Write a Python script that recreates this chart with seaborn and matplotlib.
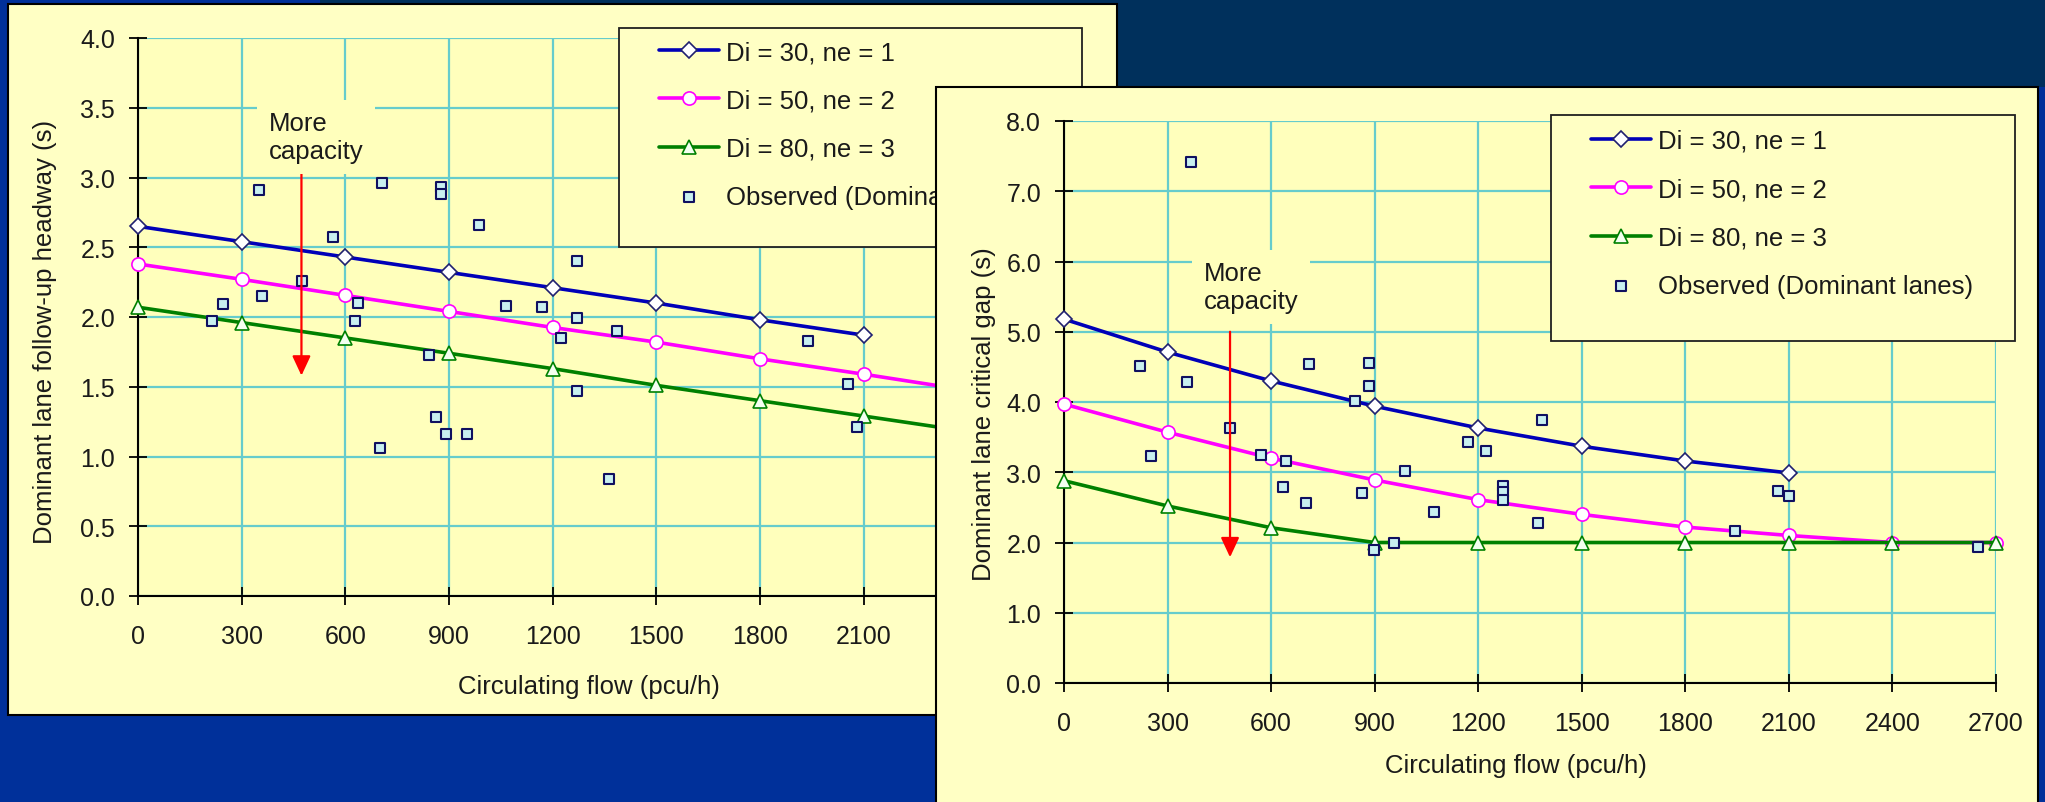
import matplotlib
matplotlib.use("Agg")
import matplotlib.pyplot as plt
import seaborn as sns
from matplotlib.patches import Rectangle
from matplotlib.transforms import Bbox, TransformedBbox

# ---------------- data ----------------
flow_ticks = [0, 300, 600, 900, 1200, 1500, 1800, 2100, 2400, 2700]
fu_yticks = [0.0, 0.5, 1.0, 1.5, 2.0, 2.5, 3.0, 3.5, 4.0]
cg_yticks = [0.0, 1.0, 2.0, 3.0, 4.0, 5.0, 6.0, 7.0, 8.0]

series_labels = ["Di = 30, ne = 1", "Di = 50, ne = 2", "Di = 80, ne = 3"]
obs_label = "Observed (Dominant lanes)"

# left chart : follow-up headway (s)
fu_x_short = [0, 300, 600, 900, 1200, 1500, 1800, 2100]
fu_x_long = [0, 300, 600, 900, 1200, 1500, 1800, 2100, 2400, 2700]
fu_di30 = [2.65, 2.54, 2.43, 2.32, 2.21, 2.10, 1.98, 1.87]
fu_di50 = [2.38, 2.27, 2.155, 2.04, 1.925, 1.82, 1.70, 1.59, 1.475, 1.36]
fu_di80 = [2.07, 1.96, 1.85, 1.74, 1.63, 1.51, 1.40, 1.29, 1.18, 1.07]
fu_obs_x = [214, 245, 350, 360, 474, 563, 627, 637, 700, 705, 841, 861, 877, 877,
            890, 952, 987, 1065, 1170, 1223, 1269, 1269, 1269, 1364, 1385, 1938,
            2055, 2081]
fu_obs_y = [1.97, 2.09, 2.91, 2.15, 2.26, 2.57, 1.97, 2.10, 1.06, 2.96, 1.73, 1.28,
            2.93, 2.88, 1.16, 1.16, 2.66, 2.08, 2.07, 1.85, 2.40, 1.99, 1.47, 0.84,
            1.90, 1.83, 1.52, 1.21]

# right chart : critical gap (s)
cg_x_short = [0, 300, 600, 900, 1200, 1500, 1800, 2100]
cg_x_long = [0, 300, 600, 900, 1200, 1500, 1800, 2100, 2400, 2700]
cg_di30 = [5.18, 4.71, 4.30, 3.94, 3.63, 3.37, 3.16, 2.99]
cg_di50 = [3.97, 3.57, 3.20, 2.89, 2.61, 2.40, 2.22, 2.10, 2.00, 2.00]
cg_di80 = [2.88, 2.52, 2.21, 2.00, 2.00, 2.00, 2.00, 2.00, 2.00, 2.00]
cg_obs_x = [219, 252, 357, 367, 482, 572, 633, 643, 701, 711, 842, 863, 885, 885,
            899, 956, 988, 1072, 1171, 1223, 1271, 1271, 1271, 1374, 1386, 1943,
            2069, 2100, 2649]
cg_obs_y = [4.51, 3.23, 4.28, 7.42, 3.63, 3.25, 2.79, 3.16, 2.56, 4.54, 4.02, 2.71,
            4.56, 4.23, 1.90, 1.99, 3.02, 2.43, 3.43, 3.30, 2.80, 2.72, 2.61, 2.28,
            3.74, 2.17, 2.73, 2.66, 1.93]

# ---------------- style ----------------
W, H, DPI = 2045, 803, 100
BG_BLUE = "#00309A"
BG_NAVY = "#00305C"
PANEL = "#FFFFC4"
PLOT = "#FFFFBC"
GRID = "#66CCCC"
C30, C50, C80 = "#0000B8", "#FF00FF", "#008000"
OBS_FACE, OBS_EDGE = "#C8F0F0", "#101060"
TXT = "#1A1A1A"
FS_TICK, FS_LAB = 18, 18.5

sns.set_style("ticks")
plt.rcParams["font.family"] = ["Liberation Sans", "DejaVu Sans"]

fig = plt.figure(figsize=(W / DPI, H / DPI), dpi=DPI, facecolor=BG_BLUE)


def fx(px):
    return px / W


def fy(py):
    return 1 - py / H


def rect_px(x0, y0, x1, y1, z, **kw):
    r = Rectangle((fx(x0), fy(y1)), fx(x1) - fx(x0), fy(y0) - fy(y1),
                  transform=fig.transFigure, zorder=z, **kw)
    fig.add_artist(r)
    return r


def make_axes(x0, y0, x1, y1, z):
    ax = fig.add_axes([fx(x0), fy(y1), fx(x1) - fx(x0), fy(y0) - fy(y1)])
    ax.set_zorder(z)
    return ax


def draw_chart(ax, box, x_short, x_long, d30, d50, d80, ox, oy, yticks,
               ylabel, xlab_px, ylab_px):
    x0, y0, x1, y1 = box
    ax.set_facecolor(PLOT)
    sns.lineplot(x=x_short, y=d30, ax=ax, color=C30, linewidth=2.6, marker="D",
                 markersize=8, markerfacecolor="white", markeredgecolor="#202070",
                 markeredgewidth=1.2, label=series_labels[0], clip_on=False, zorder=3)
    sns.lineplot(x=x_long, y=d50, ax=ax, color=C50, linewidth=2.6, marker="o",
                 markersize=9.5, markerfacecolor="white", markeredgecolor=C50,
                 markeredgewidth=1.2, label=series_labels[1], clip_on=False, zorder=3)
    sns.lineplot(x=x_long, y=d80, ax=ax, color=C80, linewidth=2.6, marker="^",
                 markersize=10.5, markerfacecolor="#F4FFF0", markeredgecolor=C80,
                 markeredgewidth=1.2, label=series_labels[2], clip_on=False, zorder=3)
    sns.scatterplot(x=ox, y=oy, ax=ax, marker="s", s=58, color=OBS_FACE,
                    edgecolor=OBS_EDGE, linewidth=1.5, label=obs_label, zorder=4,
                    clip_on=False)
    if ax.get_legend() is not None:
        ax.get_legend().remove()
    ax.set_xlim(0, 2700)
    ax.set_ylim(yticks[0], yticks[-1])
    ax.set_xticks(flow_ticks)
    ax.set_xticklabels([str(t) for t in flow_ticks])
    ax.set_yticks(yticks)
    ax.set_yticklabels([f"{v:.1f}" for v in yticks])
    ax.set_axisbelow(True)
    ax.grid(True, color=GRID, linewidth=1.6)
    for s in ("top", "right"):
        ax.spines[s].set_visible(False)
    for s in ("left", "bottom"):
        ax.spines[s].set_color("black")
        ax.spines[s].set_linewidth(1.5)
    ax.tick_params(direction="inout", length=13, width=1.3, color="black",
                   labelsize=FS_TICK, labelcolor=TXT)
    ax.tick_params(axis="y", pad=10)
    ax.tick_params(axis="x", pad=14)
    ax.set_xlabel("Circulating flow (pcu/h)", fontsize=FS_LAB, color=TXT)
    ax.set_ylabel(ylabel, fontsize=FS_LAB, color=TXT)
    ax.xaxis.label.set_va("center")
    ax.yaxis.label.set_va("center")
    ax.xaxis.set_label_coords((xlab_px[0] - x0) / (x1 - x0), (y1 - xlab_px[1]) / (y1 - y0))
    ax.yaxis.set_label_coords((ylab_px[0] - x0) / (x1 - x0), (y1 - ylab_px[1]) / (y1 - y0))
    return ax.get_legend_handles_labels()


def capacity_note(ax, x_px, yc_px, arrow_x, y_start, y_tip):
    ax.annotate("", xy=(arrow_x, y_tip), xytext=(arrow_x, y_start),
                arrowprops=dict(arrowstyle="-|>,head_length=0.6,head_width=0.28",
                                color="#FF0000", lw=1.6, shrinkA=0, shrinkB=0,
                                mutation_scale=20), zorder=5)
    fig.text(fx(x_px), fy(yc_px), "More\ncapacity", ha="left", va="center",
             fontsize=FS_LAB, color=TXT, zorder=ax.get_zorder() + 0.5,
             bbox=dict(boxstyle="square,pad=0.45", facecolor=PLOT, edgecolor="none"))


def legend_at(handles, labels, frame, x_handle, y_top, z, clip_right=None):
    fx0, fy0, fx1, fy1 = frame
    rect_px(fx0, fy0, fx1, fy1, z, facecolor=PANEL, edgecolor="#202020", linewidth=1.3)
    leg = fig.legend(handles, labels, loc="upper left",
                     bbox_to_anchor=(fx(x_handle), fy(y_top)),
                     bbox_transform=fig.transFigure, frameon=False, borderpad=0,
                     borderaxespad=0, handlelength=2.33, handletextpad=0.27,
                     labelspacing=0.95, fontsize=FS_LAB, scatterpoints=1,
                     numpoints=1, labelcolor=TXT)
    leg.set_zorder(z + 0.1)
    if clip_right is not None:
        cb = TransformedBbox(Bbox([[0, 0], [fx(clip_right), 1]]), fig.transFigure)
        for t in leg.get_texts():
            t.set_clip_box(cb)
            t.set_clip_on(True)
    return leg


# background shapes
rect_px(320, 0, W, 88, 0.1, facecolor=BG_NAVY, edgecolor="none")

# ---------------- left panel ----------------
rect_px(8, 5, 1117, 716, 0.5, facecolor=PANEL, edgecolor="black", linewidth=1.5)
L_BOX = (138, 39, 1071, 597)
axL = make_axes(*L_BOX, 2)
hL, lL = draw_chart(axL, L_BOX, fu_x_short, fu_x_long, fu_di30, fu_di50, fu_di80,
                    fu_obs_x, fu_obs_y, fu_yticks,
                    "Dominant lane follow-up headway (s)", (589, 687), (45, 332))
capacity_note(axL, 269, 138, 473, 3.05, 1.58)
legend_at(hL, lL, (619, 29, 1082, 248), 659, 41, 3, clip_right=936)

# ---------------- right panel ----------------
rect_px(936, 88, 2038, H + 10, 4, facecolor=PANEL, edgecolor="black", linewidth=1.5)
R_BOX = (1064, 122, 1996, 684)
axR = make_axes(*R_BOX, 5)
hR, lR = draw_chart(axR, R_BOX, cg_x_short, cg_x_long, cg_di30, cg_di50, cg_di80,
                    cg_obs_x, cg_obs_y, cg_yticks,
                    "Dominant lane critical gap (s)", (1516, 766), (984, 414))
capacity_note(axR, 1204, 288, 481, 5.0, 1.79)
legend_at(hR, lR, (1551, 116, 2015, 342), 1591, 130, 6)

fig.savefig("out.png", dpi=DPI, facecolor=BG_BLUE)
